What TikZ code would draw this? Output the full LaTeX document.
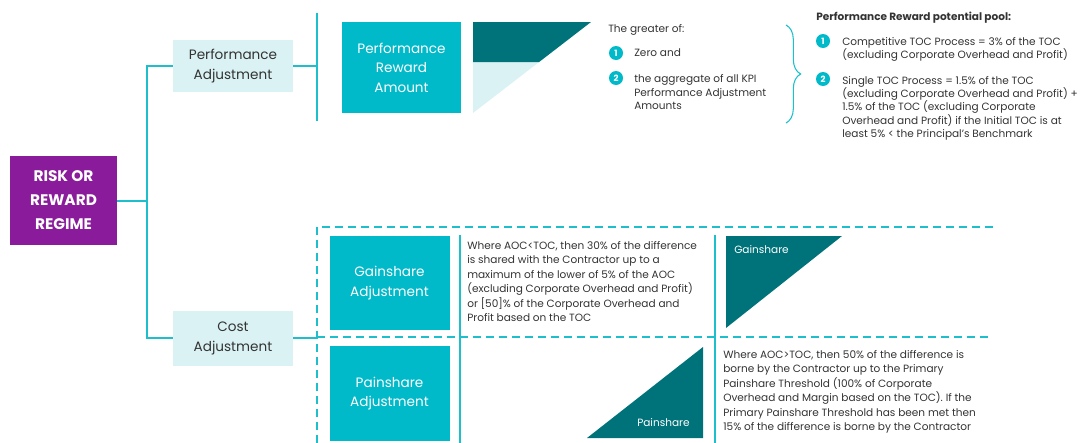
\documentclass[tikz,border=0pt]{standalone}
\usepackage{fontspec}
\setmainfont{Poppins}
\usetikzlibrary{decorations.pathreplacing}
\definecolor{purp}{HTML}{8A1C9C}
\definecolor{tealA}{HTML}{00B9C9}
\definecolor{liteA}{HTML}{DAF2F4}
\definecolor{dtealA}{HTML}{00737A}
\definecolor{txtA}{HTML}{333333}
\definecolor{lnA}{HTML}{1DBFCC}
\begin{document}
\begin{tikzpicture}[x=0.75pt,y=-0.75pt,
  sz/.style 2 args={minimum width=#1*0.75pt, minimum height=#2*0.75pt},
  tealbox/.style={fill=tealA, text=white, inner sep=0pt, align=center, font=\fontsize{10.2}{14.7}\selectfont},
  litebox/.style={fill=liteA, text=txtA, inner sep=0pt, align=center, font=\fontsize{10.2}{15}\selectfont},
  regbox/.style={fill=purp, text=white, inner sep=0pt, align=center, font=\bfseries\fontsize{11.5}{18}\selectfont},
  cline/.style={draw=lnA, line width=1.5pt},
  dline/.style={draw=lnA, line width=1.5pt, dash pattern=on 6pt off 3.75pt},
  body/.style={text=txtA, anchor=north west, inner sep=0pt, align=left, font=\fontsize{7.9}{10.9}\selectfont},
  bodyb/.style={body, font=\fontsize{7.9}{10}\selectfont},
  num/.style={circle, fill=tealA, text=white, inner sep=0pt, minimum size=10.5pt, font=\bfseries\fontsize{6.5}{6.5}\selectfont},
  trilabel/.style={text=white, inner sep=0pt, font=\fontsize{7.9}{9}\selectfont}
]
\useasboundingbox (0,0) rectangle (1083,443);

% main boxes
\node[regbox, sz={107}{89}] (regime) at (63.5,200.5) {RISK OR\\REWARD\\REGIME};
\node[litebox, sz={120}{52}] (perfadj) at (233,66) {Performance\\Adjustment};
\node[litebox, sz={120}{55}] (costadj) at (233,338) {Cost\\Adjustment};
\node[tealbox, sz={119}{91}] (pra) at (401.5,67.5) {Performance\\Reward\\Amount};
\node[tealbox, sz={120}{94}] (gainadj) at (389.5,283) {Gainshare\\Adjustment};
\node[tealbox, sz={120}{95}] (painadj) at (389.5,393.5) {Painshare\\Adjustment};

% connectors
\coordinate (tr) at (147,0);
\coordinate (s1t) at (317,13);
\coordinate (s1b) at (317,121);
\draw[cline] (perfadj.west) -- (perfadj.west -| tr) |- (costadj.west);
\draw[cline] (regime.east) -- (regime.east -| tr);
\draw[cline] (s1t) -- (s1b);
\draw[cline] (perfadj.east) -- (perfadj.east -| s1t);

\coordinate (dTL) at (317,227);
\coordinate (dTR) at (993,227);
\coordinate (dBL) at (317,443);
\coordinate (dML) at (317,337);
\coordinate (dMR) at (993,337);
\draw[dline] (dTR) -- (dTL) -- (dBL);
\draw[dline] (dML) -- (dMR);
\draw[cline] (costadj.east) -- (costadj.east -| dML);

\coordinate (v1t) at (460,235);
\coordinate (v1b) at (460,443);
\coordinate (v2t) at (715,235);
\coordinate (v2b) at (715,443);
\draw[cline] (v1t) -- (v1b);
\draw[cline] (v2t) -- (v2b);

% performance reward triangle
\fill[liteA] (473,22) -- (591,22) -- (473,113) -- cycle;
\fill[dtealA] (473,22) -- (591,22) -- (539.1,62) -- (473,62) -- cycle;

% gainshare / painshare triangles
\fill[dtealA] (726,236) -- (842,236) -- (726,328) -- cycle;
\node[trilabel, anchor=west] (gl) at (734,250) {Gainshare};
\fill[dtealA] (703,347) -- (703,438) -- (587,438) -- cycle;
\node[trilabel, anchor=west] (pl) at (637,423) {Painshare};

% top right texts
\node[bodyb] (greater) at (608,24) {The greater of:};
\node[num] (n1) at (616,53) {1};
\node[bodyb, anchor=west] (zero) at (634,53) {Zero and};
\node[num] (n2) at (616,78) {2};
\node[bodyb] (aggr) at (634,74.5) {the aggregate of all KPI\\Performance Adjustment\\Amounts};

\coordinate (brT) at (786,25);
\coordinate (brB) at (786,123);
\draw[draw=lnA, line width=0.8pt, decorate, decoration={brace, amplitude=11pt}] (brT) -- (brB);

\node[bodyb, font=\bfseries\fontsize{7.9}{10}\selectfont] (pool) at (816,12) {Performance Reward potential pool:};
\node[num] (m1) at (823,41) {1};
\node[bodyb] (comp) at (842,37) {Competitive TOC Process = 3\% of the TOC\\(excluding Corporate Overhead and Profit)};
\node[num] (m2) at (823,79) {2};
\node[bodyb] (single) at (842,76) {Single TOC Process = 1.5\% of the TOC\\(excluding Corporate Overhead and Profit) +\\1.5\% of the TOC (excluding Corporate\\Overhead and Profit) if the Initial TOC is at\\least 5\% < the Principal’s Benchmark};

% bottom texts
\node[body] (gtext) at (467,241) {Where AOC<TOC, then 30\% of the difference\\is shared with the Contractor up to a\\maximum of the lower of 5\% of the AOC\\(excluding Corporate Overhead and Profit)\\or [50]\% of the Corporate Overhead and\\Profit based on the TOC};
\node[body] (ptext) at (723,350) {Where AOC>TOC, then 50\% of the difference is\\borne by the Contractor up to the Primary\\Painshare Threshold (100\% of Corporate\\Overhead and Margin based on the TOC). If the\\Primary Painshare Threshold has been met then\\15\% of the difference is borne by the Contractor};
\end{tikzpicture}
\end{document}
